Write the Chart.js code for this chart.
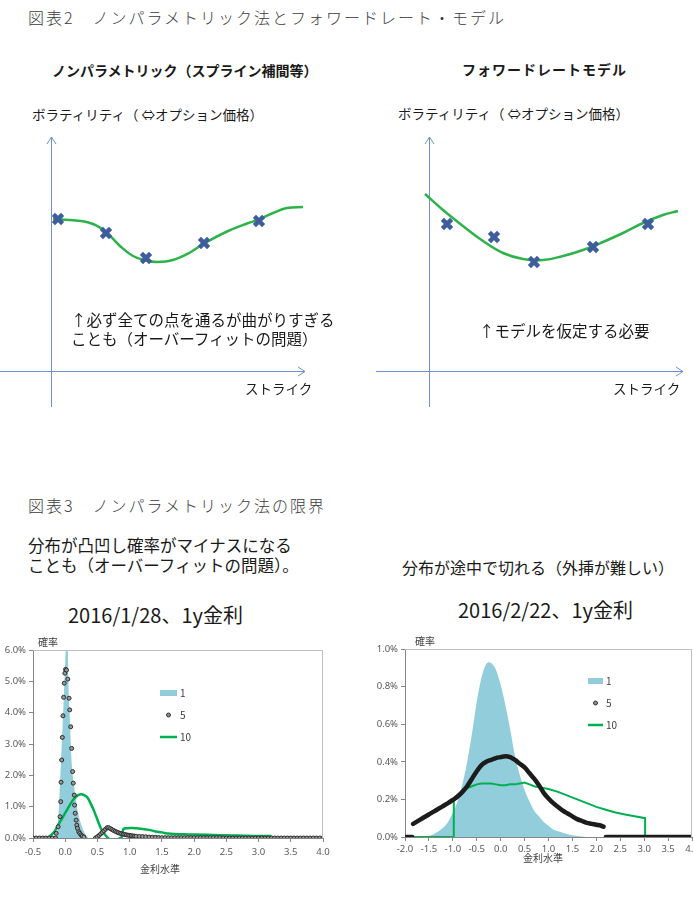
<!DOCTYPE html>
<html>
<head>
<meta charset="utf-8">
<script src="https://cdn.jsdelivr.net/npm/chart.js@4.4.1/dist/chart.umd.min.js"></script>
<style>
  body { margin: 0; width: 693px; height: 903px; position: relative; background: #fff; overflow: hidden;
         font-family: "Noto Sans CJK JP", sans-serif; color: #1a1a1a; }
  .t { position: absolute; white-space: nowrap; line-height: 1; }
  .fig { font-size: 16px; letter-spacing: 2px; color: #3c3c3c; font-weight: 300; }
  .sub { font-size: 14px; font-weight: bold; }
  .vol { font-size: 13.5px; }
  .note { font-size: 15.5px; line-height: 19px; }
  .stk { font-size: 13.5px; }
  canvas { position: absolute; }
</style>
</head>
<body>
<div class="t fig" style="left:28px;top:9px">図表2　ノンパラメトリック法とフォワードレート・モデル</div>
<div class="t sub" style="left:52px;top:63px">ノンパラメトリック（スプライン補間等）</div>
<div class="t sub" style="left:462px;top:62px;letter-spacing:1px">フォワードレートモデル</div>
<div class="t vol" style="left:32px;top:108px">ボラティリティ（ ⇔オプション価格）</div>
<div class="t vol" style="left:398px;top:107px">ボラティリティ（ ⇔オプション価格）</div>

<canvas id="splineDiag" width="346" height="290" style="left:0;top:130px"></canvas>
<canvas id="forwardDiag" width="347" height="290" style="left:346px;top:130px"></canvas>

<div class="t note" style="left:71px;top:310px">↑必ず全ての点を通るが曲がりすぎる<br>ことも（オーバーフィットの問題）</div>
<div class="t note" style="left:479px;top:321px">↑モデルを仮定する必要</div>
<div class="t stk" style="left:245px;top:382px">ストライク</div>
<div class="t stk" style="left:613px;top:382px">ストライク</div>

<div class="t fig" style="left:28px;top:497px">図表3　ノンパラメトリック法の限界</div>
<div class="t" style="left:28px;top:535px;font-size:16.5px;line-height:20px">分布が凸凹し確率がマイナスになる<br>ことも（オーバーフィットの問題）。</div>
<div class="t" style="left:402px;top:559px;font-size:16px">分布が途中で切れる（外挿が難しい）</div>
<div class="t" style="left:68px;top:605px;font-size:20px">2016/1/28、1y金利</div>
<div class="t" style="left:458px;top:600px;font-size:20px">2016/2/22、1y金利</div>

<canvas id="distJan" width="340" height="250" style="left:0;top:630px"></canvas>
<canvas id="distFeb" width="348" height="240" style="left:345px;top:630px"></canvas>

<script>
// ---- 図表2 (strike / volatility, arbitrary units) ----
const splStrikePts = [0.7, 5.5, 9.5, 15.3, 20.8];
const splVolPts = [15.2, 13.8, 11.3, 12.8, 15.0];
const splStrikeCurve = [0.2, 2.5, 4.2, 5.5, 6.9, 8.2, 9.5, 10.6, 12.2, 13.9, 15.3, 17.6, 19.6, 20.8, 22.2, 23.6, 25.2];
const splVolCurve = [15.2, 15.05, 14.7, 13.9, 12.5, 11.5, 11.05, 10.9, 11.1, 11.85, 12.75, 13.95, 14.75, 15.15, 15.8, 16.3, 16.4];

const fwdStrikePts = [1.8, 6.5, 10.5, 16.4, 21.9];
const fwdVolPts = [14.7, 13.4, 10.9, 12.4, 14.7];
const fwdStrikeCurve = [-0.4, 1.4, 3.4, 5.4, 7.4, 9.4, 11.4, 13.4, 15.4, 17.4, 19.4, 21.4, 23.4, 24.9];
const fwdVolCurve = [17.7, 16.1, 14.5, 13.0, 11.8, 11.2, 11.1, 11.5, 12.1, 12.9, 13.8, 14.8, 15.6, 16.0];

// ---- 図表3 (金利水準 %, 確率 %) ----
const seriesLabels = ['1', '5', '10'];

const rateJan1 = [-0.13, -0.1, -0.08, -0.06, -0.04, -0.02, 0, 0.02, 0.03, 0.04, 0.05, 0.07, 0.1, 0.12, 0.14, 0.16, 0.18, 0.2, 0.23, 0.26, 0.28, 0.31, 0.33, 0.36];
const probJan1 = [0, 0.9, 1.8, 2.7, 3.6, 4.6, 5.6, 6.5, 6.6, 6.0, 4.9, 3.9, 2.4, 1.95, 1.6, 1.28, 1.0, 0.8, 0.55, 0.36, 0.25, 0.13, 0.08, 0];

const rateJan5 = [-0.5, -0.45, -0.4, -0.35, -0.3, -0.25, -0.2, -0.15, -0.14, -0.11, -0.08, -0.07, -0.065, -0.055, -0.045, -0.035, -0.025, -0.015, -0.005, 0.005, 0.02,
  0.04, 0.06, 0.07, 0.085, 0.1, 0.115, 0.125, 0.14, 0.145, 0.155, 0.17, 0.18, 0.19, 0.21, 0.225, 0.245, 0.265, 0.29,
  0.47, 0.5, 0.525, 0.55, 0.575, 0.6, 0.625, 0.65, 0.675, 0.7, 0.725, 0.75, 0.775, 0.8, 0.825, 0.85, 0.875, 0.9, 0.925, 0.95, 0.975, 1.0,
  1.025, 1.05, 1.075, 1.1, 1.15, 1.2, 1.25, 1.3, 1.35, 1.4, 1.45, 1.5, 1.55, 1.6, 1.65, 1.7, 1.75, 1.8, 1.85, 1.9, 1.95, 2.0,
  2.05, 2.1, 2.15, 2.2, 2.25, 2.3, 2.35, 2.4, 2.45, 2.5, 2.55, 2.6, 2.65, 2.7, 2.75, 2.8, 2.85, 2.9, 2.95, 3.0,
  3.05, 3.1, 3.15, 3.2, 3.25, 3.3, 3.35, 3.4, 3.45, 3.5, 3.55, 3.6, 3.65, 3.7, 3.75, 3.8, 3.85, 3.9, 3.95, 4.0];
const probJan5 = [0, 0, 0, 0, 0, 0, 0, 0, 0.15, 0.36, 0.68, 1.16, 1.78, 2.49, 3.21, 3.9, 4.49, 4.94, 5.26, 5.38, 5.36,
  5.07, 4.46, 4.09, 3.55, 2.86, 2.12, 1.75, 1.37, 1.05, 0.79, 0.57, 0.41, 0.31, 0.2, 0.15, 0.1, 0.06, 0.03,
  0, 0.04, 0.08, 0.13, 0.18, 0.23, 0.28, 0.33, 0.33, 0.3, 0.27, 0.24, 0.215, 0.19, 0.17, 0.15, 0.135, 0.12, 0.11, 0.1, 0.09, 0.08,
  0.075, 0.065, 0.06, 0.055, 0.05, 0.045, 0.04, 0.03, 0.025, 0.02, 0.015, 0.01, 0.01, 0.01, 0.01, 0.01, 0.01, 0.01, 0.01, 0.01, 0.01, 0.01,
  0.01, 0.01, 0.01, 0.01, 0.01, 0.01, 0.01, 0.01, 0, 0, 0, 0, 0, 0, 0, 0, 0, 0, 0, 0,
  0, 0, 0, 0, 0, 0, 0, 0, 0, 0, 0, 0, 0, 0, 0, 0, 0, 0, 0, 0];

const rateJan10 = [-0.5, -0.4, -0.3, -0.25, -0.2, -0.15, -0.1, -0.05, 0, 0.05, 0.1, 0.15, 0.2, 0.25, 0.3, 0.35, 0.4, 0.45, 0.5, 0.55, 0.6, 0.65,
  0.7, 0.75, 0.8, 0.85, 0.88, 0.9, 0.95, 1.0, 1.05, 1.1, 1.2, 1.3, 1.4, 1.5, 1.6, 1.7, 1.8, 1.9, 2.0, 2.2, 2.4, 2.6, 2.8, 3.0, 3.2];
const probJan10 = [0, 0, 0, 0.04, 0.13, 0.26, 0.45, 0.62, 0.8, 0.98, 1.15, 1.28, 1.37, 1.4, 1.36, 1.28, 1.08, 0.85, 0.58, 0.32, 0.15, 0.03,
  -0.06, -0.1, -0.06, 0, 0.05, 0.28, 0.31, 0.32, 0.32, 0.31, 0.29, 0.26, 0.21, 0.18, 0.14, 0.125, 0.12, 0.115, 0.11, 0.1, 0.09, 0.08, 0.07, 0.065, 0.06];

const rateFeb1 = [-1.6, -1.5, -1.4, -1.3, -1.2, -1.1, -1.0, -0.9, -0.8, -0.7, -0.6, -0.5, -0.4, -0.3, -0.25, -0.2, -0.1, 0, 0.1, 0.2, 0.3, 0.4, 0.5,
  0.6, 0.7, 0.8, 0.9, 1.0, 1.1, 1.2, 1.4, 1.6, 1.8];
const probFeb1 = [0, 0.005, 0.015, 0.03, 0.05, 0.08, 0.13, 0.19, 0.28, 0.4, 0.55, 0.72, 0.85, 0.92, 0.93, 0.925, 0.89, 0.81, 0.7, 0.57, 0.43, 0.33, 0.25,
  0.19, 0.14, 0.11, 0.08, 0.06, 0.04, 0.03, 0.015, 0.005, 0];

const rateFeb5 = [-2.0, -1.9, -1.85, -1.84, -1.83, -1.7, -1.6, -1.5, -1.4, -1.3, -1.2, -1.1, -1.0, -0.9, -0.8, -0.7, -0.6, -0.5, -0.4, -0.3, -0.2, -0.1,
  0, 0.1, 0.2, 0.3, 0.4, 0.5, 0.6, 0.7, 0.8, 0.9, 1.0, 1.1, 1.2, 1.3, 1.4, 1.5, 1.6, 1.7, 1.8, 1.9, 2.0, 2.1, 2.15, 2.17, 2.2, 2.5, 3.0, 3.5, 4.0];
const probFeb5 = [0, 0, 0, null, 0.07, 0.09, 0.105, 0.12, 0.135, 0.15, 0.165, 0.18, 0.197, 0.215, 0.24, 0.27, 0.31, 0.35, 0.382, 0.4, 0.41, 0.42,
  0.425, 0.43, 0.425, 0.41, 0.39, 0.37, 0.34, 0.31, 0.275, 0.235, 0.205, 0.18, 0.16, 0.14, 0.125, 0.11, 0.095, 0.085, 0.075, 0.07, 0.065, 0.06, 0.055, null, 0, 0, 0, 0, 0];

const rateFeb10 = [-1.83, -0.98, -0.98, -0.9, -0.8, -0.7, -0.6, -0.5, -0.4, -0.3, -0.2, -0.1, 0, 0.1, 0.2, 0.3, 0.4, 0.5, 0.6, 0.7, 0.8,
  1.0, 1.2, 1.4, 1.6, 1.8, 2.0, 2.2, 2.4, 2.6, 2.8, 3.02, 3.02, 4.0];
const probFeb10 = [0, 0, 0.205, 0.225, 0.245, 0.26, 0.27, 0.28, 0.285, 0.285, 0.285, 0.28, 0.275, 0.275, 0.28, 0.28, 0.285, 0.29, 0.28, 0.27, 0.265,
  0.255, 0.24, 0.22, 0.2, 0.18, 0.16, 0.145, 0.13, 0.12, 0.11, 0.1, 0, 0];

const pts = (xs, ys) => xs.map((x, i) => ({x: x, y: ys[i]}));

const AREA_BLUE = '#92cddc';
const GREEN = '#00b050';
const AXIS_GRAY = '#868686';
const TICK_FONT = {family: '"Liberation Sans Narrow", "Noto Sans", sans-serif', size: 9.5};

// arrow axes for the concept diagrams
const arrowAxes = {
  id: 'arrowAxes',
  beforeDatasetsDraw(chart, args, opts) {
    const {ctx, scales: {x, y}} = chart;
    const xa = x.getPixelForValue(0), yb = y.getPixelForValue(0);
    const xl = x.getPixelForValue(opts.xFrom), xr = x.getPixelForValue(opts.xTo);
    const yt = y.getPixelForValue(opts.yTo), ybot = y.getPixelForValue(opts.yFrom);
    ctx.save();
    ctx.strokeStyle = '#6b93d3';
    ctx.lineWidth = 1;
    ctx.beginPath();
    ctx.moveTo(xl, yb + 0.5); ctx.lineTo(xr, yb + 0.5);
    ctx.moveTo(xr - 7, yb - 4); ctx.lineTo(xr, yb + 0.5); ctx.lineTo(xr - 7, yb + 5);
    ctx.moveTo(xa + 0.5, ybot); ctx.lineTo(xa + 0.5, yt);
    ctx.moveTo(xa - 4, yt + 7); ctx.lineTo(xa + 0.5, yt); ctx.lineTo(xa + 5, yt + 7);
    ctx.stroke();
    ctx.restore();
  }
};

function volDiagram(id, sx, sv, cx, cv, xMin, xMax, xFrom) {
  new Chart(document.getElementById(id), {
    type: 'scatter',
    data: {
      datasets: [{
        data: pts(sx, sv),
        pointStyle: 'crossRot',
        pointRadius: 6.5,
        pointBorderWidth: 4.5,
        pointBorderColor: '#3d5d9c',
        pointBackgroundColor: '#3d5d9c'
      }, {
        data: pts(cx, cv),
        showLine: true,
        tension: 0.4,
        borderColor: '#2db34a',
        borderWidth: 2.5,
        pointRadius: 0
      }]
    },
    options: {
      responsive: false,
      animation: false,
      devicePixelRatio: 1,
      layout: {padding: 0, autoPadding: false},
      plugins: {
        legend: {display: false},
        tooltip: {enabled: false},
        arrowAxes: {xFrom: xFrom, xTo: 25.4, yFrom: -3.6, yTo: 23.4}
      },
      scales: {
        x: {type: 'linear', display: false, min: xMin, max: xMax},
        y: {type: 'linear', display: false, min: -4.9, max: 24.1}
      }
    },
    plugins: [arrowAxes]
  });
}

volDiagram('splineDiag', splStrikePts, splVolPts, splStrikeCurve, splVolCurve, -5.1, 29.5, -5.1);
volDiagram('forwardDiag', fwdStrikePts, fwdVolPts, fwdStrikeCurve, fwdVolCurve, -8.3, 26.4, -5.3);

// plot frame, axis titles and legend for the distribution charts
const distFrame = {
  id: 'distFrame',
  afterDraw(chart, args, opts) {
    const {ctx, chartArea: a} = chart;
    ctx.save();
    ctx.strokeStyle = '#bfbfbf';
    ctx.lineWidth = 1;
    ctx.beginPath();
    ctx.moveTo(a.left, a.top + 0.5); ctx.lineTo(a.right - 0.5, a.top + 0.5); ctx.lineTo(a.right - 0.5, a.bottom);
    ctx.stroke();

    ctx.fillStyle = '#404040';
    ctx.font = '10px "Noto Sans CJK JP", sans-serif';
    ctx.textBaseline = 'middle';
    ctx.textAlign = 'left';
    ctx.fillText('確率', a.left + opts.yTitleDx, a.top - 8);
    ctx.textAlign = 'center';
    ctx.fillText('金利水準', a.left + opts.xTitleDx, a.bottom + opts.xTitleDy);

    const lx = a.left + opts.legendX, w = opts.swatch;
    ctx.textAlign = 'left';
    chart.data.datasets.forEach((ds, i) => {
      const yy = a.top + opts.legendY + i * 22;
      if (ds.legendType === 'area') {
        ctx.fillStyle = ds.backgroundColor;
        ctx.fillRect(lx, yy - 3, w, 6);
      } else if (ds.legendType === 'dot') {
        ctx.beginPath();
        ctx.arc(lx + w / 2, yy, 2, 0, Math.PI * 2);
        ctx.fillStyle = '#8c8c8c';
        ctx.fill();
        ctx.strokeStyle = '#333';
        ctx.lineWidth = 1;
        ctx.stroke();
      } else {
        ctx.strokeStyle = ds.borderColor;
        ctx.lineWidth = 2.5;
        ctx.beginPath();
        ctx.moveTo(lx, yy); ctx.lineTo(lx + w, yy);
        ctx.stroke();
      }
      ctx.fillStyle = '#404040';
      ctx.fillText(ds.label, lx + w + 3, yy);
    });
    ctx.restore();
  }
};

function distChart(id, cfg) {
  new Chart(document.getElementById(id), {
    type: 'scatter',
    data: {datasets: cfg.datasets},
    options: {
      responsive: false,
      animation: false,
      devicePixelRatio: 1,
      layout: {padding: {top: cfg.padTop, right: cfg.padRight, left: 0, bottom: 0}, autoPadding: false},
      plugins: {legend: {display: false}, tooltip: {enabled: false}, distFrame: cfg.frame},
      scales: {
        x: {
          type: 'linear', min: cfg.xMin, max: cfg.xMax,
          ticks: {stepSize: 0.5, padding: cfg.xTickPad, color: '#595959', font: TICK_FONT,
                  autoSkip: false, maxRotation: 0, callback: v => v.toFixed(1)},
          grid: {drawOnChartArea: false, tickLength: 4, color: AXIS_GRAY},
          border: {color: AXIS_GRAY},
          afterFit: s => { s.height = cfg.xH; s.paddingLeft = 0; s.paddingRight = 0; }
        },
        y: {
          type: 'linear', min: 0, max: cfg.yMax,
          ticks: {stepSize: cfg.yStep, padding: 3, color: '#595959', font: TICK_FONT,
                  callback: v => v.toFixed(1) + '%'},
          grid: {drawOnChartArea: false, tickLength: 4, color: AXIS_GRAY},
          border: {color: AXIS_GRAY},
          afterFit: s => { s.width = cfg.yW; s.paddingTop = 0; s.paddingBottom = 0; }
        }
      }
    },
    plugins: [distFrame]
  });
}

distChart('distJan', {
  xMin: -0.5, xMax: 4.0, yMax: 6, yStep: 1,
  yW: 33, xH: 42, padTop: 20, padRight: 17, xTickPad: 5,
  frame: {yTitleDx: 5, xTitleDx: 127, xTitleDy: 31, legendX: 127, legendY: 43, swatch: 17},
  datasets: [{
    label: seriesLabels[0], legendType: 'area', order: 2,
    data: pts(rateJan1, probJan1),
    showLine: true, fill: 'origin', cubicInterpolationMode: 'monotone',
    backgroundColor: AREA_BLUE, borderWidth: 0, pointRadius: 0
  }, {
    label: seriesLabels[1], legendType: 'dot', order: 0,
    data: pts(rateJan5, probJan5),
    showLine: false, pointRadius: 2, pointBorderWidth: 1,
    pointBackgroundColor: '#9a9a9a', pointBorderColor: '#2b2b2b'
  }, {
    label: seriesLabels[2], legendType: 'line', order: 1,
    data: pts(rateJan10, probJan10),
    showLine: true, cubicInterpolationMode: 'monotone',
    borderColor: GREEN, borderWidth: 2.5, pointRadius: 0
  }]
});

distChart('distFeb', {
  xMin: -2.0, xMax: 4.0, yMax: 1.0, yStep: 0.2,
  yW: 60, xH: 33, padTop: 19, padRight: 1, xTickPad: 3,
  frame: {yTitleDx: 10, xTitleDx: 138, xTitleDy: 21, legendX: 183, legendY: 32, swatch: 15},
  datasets: [{
    label: seriesLabels[0], legendType: 'area', order: 2,
    data: pts(rateFeb1, probFeb1),
    showLine: true, fill: 'origin', cubicInterpolationMode: 'monotone',
    backgroundColor: AREA_BLUE, borderWidth: 0, pointRadius: 0
  }, {
    label: seriesLabels[1], legendType: 'dot', order: 0,
    data: pts(rateFeb5, probFeb5),
    showLine: true, cubicInterpolationMode: 'monotone', spanGaps: false,
    borderColor: '#1c1c1c', borderWidth: 4.5, borderCapStyle: 'round', borderJoinStyle: 'round',
    pointRadius: 0
  }, {
    label: seriesLabels[2], legendType: 'line', order: 1,
    data: pts(rateFeb10, probFeb10),
    showLine: true, tension: 0,
    borderColor: GREEN, borderWidth: 2, pointRadius: 0
  }]
});
</script>
</body>
</html>
